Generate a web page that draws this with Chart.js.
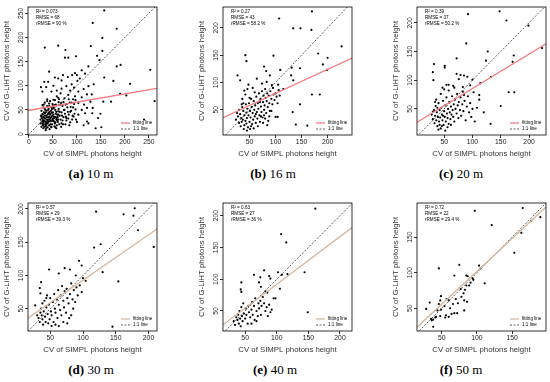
<!DOCTYPE html>
<html>
<head>
<meta charset="utf-8">
<script src="https://cdn.jsdelivr.net/npm/chart.js@4.4.1/dist/chart.umd.min.js"></script>
<style>
  body { margin: 0; background: #fff; width: 550px; height: 382px; position: relative; overflow: hidden; }
  canvas { position: absolute; }
  .cap { position: absolute; width: 180px; text-align: center; font-family: "Liberation Serif", serif; font-size: 13px; line-height: 1; color: #000; }
</style>
</head>
<body>
<script>
// panel labels and stats
const letters = ['a', 'b', 'c', 'd', 'e', 'f'];
const distances = ['10 m', '16 m', '20 m', '30 m', '40 m', '50 m'];
const r2 = ['0.073', '0.27', '0.39', '0.57', '0.63', '0.72'];
const rmse = ['68', '43', '37', '29', '27', '22'];
const rrmse = ['90 %', '58.2 %', '50.2 %', '39.3 %', '36 %', '29.4 %'];

// fitted line y = a + b*x
const fitIntercept = [49, 36, 25.5, 25, 17, 9.5];
const fitSlope = [0.17, 0.44, 0.6, 0.68, 0.75, 0.923];

// axis limits and tick labels
const xLimits = [[-2, 267], [-1, 247], [2, 230], [16, 213], [15, 219], [15, 198]];
const yLimits = [[-2, 263], [4, 238], [4.5, 227.5], [16.5, 209], [18.5, 220], [18, 198]];
const xTicks = [[0, 50, 100, 150, 200, 250], [50, 100, 150, 200], [50, 100, 150, 200], [50, 100, 150, 200], [50, 100, 150, 200], [50, 100, 150]];
const yTicks = [[0, 50, 100, 150, 200, 250], [50, 100, 150, 200], [50, 100, 150, 200], [50, 100, 150, 200], [50, 100, 150, 200], [50, 100, 150]];

// CV of SIMPL (x) vs CV of G-LiHT (y)
const ptsA = [[157,256],[133,230],[183,218],[153,199],[33,179],[61,183],[129,182],[76,174],[98,161],[75,158],[82,158],[142,162],[153,172],[147,153],[183,140],[191,143],[253,133],[124,140],[157,117],[176,110],[211,104],[190,83],[203,80],[155,67],[171,67],[262,68],[149,42],[144,33],[139,12],[151,14],[124,22],[240,30],[131,82],[121,54],[133,54],
[42,129],[25,97],[32,108],[40,108],[54,117],[61,115],[68,111],[71,122],[81,118],[90,122],[96,126],[100,122],[106,115],[110,132],[117,125],[101,110],[89,103],[78,99],[51,100],[36,97],[28,88],[47,88],[58,90],[68,94],[86,90],[94,96],[103,88],[114,93],[124,99],[135,103],[121,82],[110,76],[96,78],[82,81],[74,74],[61,75],[51,71],[38,68],[31,61],[42,58],[56,61],[67,64],[76,61],[89,65],[103,64],[115,61],[128,67],[110,50],[97,51],[86,46],[74,50],[61,47],[103,40],[93,36],[78,33],[117,43],[132,43],[121,26],[114,18],[100,25],[68,22],[58,18],
[28,42],[30,35],[32,28],[34,20],[35,45],[36,38],[38,30],[40,25],[40,50],[42,18],[44,40],[45,33],[47,55],[48,27],[50,45],[52,36],[54,22],[55,50],[57,30],[59,40],[24,30],[26,48],[28,22],[30,55],[32,15],[33,38],[36,12],[38,58],[41,44],[43,30],[46,15],[49,38],[51,28],[53,60],[56,42],[58,33],[60,25],[62,52],[64,38],[66,30],[68,45],[70,58],[72,35],[75,42],[78,28],[80,55],[83,40],[85,65],[88,48],[90,30],[92,55],[95,42],[25,38],[27,26],[29,18],[31,45],[34,32],[37,22],[39,40],[42,35],[44,26],[46,48],[48,20],[50,32],[52,54],[55,24],[60,35],[63,20],[65,60],[67,15],[70,28],[73,50],[76,20],[82,32],[86,24],[28,60],[33,65],[38,72],[44,68],[49,62],[54,70],[58,78],[62,66],[66,84],[24,22],[26,15],[30,12],[35,8],[40,35],[45,42],[35,26],[32,33],[41,52],[47,36],[36,18],[39,14],[43,10],[29,40],[31,25],[37,48],[42,63],[48,44],[53,16],[57,12],[61,30],[64,46],[69,38],[71,20],[77,36],[81,46],[84,18],[87,56],[91,38],[94,62],[98,30],[27,33],[33,52],[39,28],[45,20],[50,58],[56,35],[63,72],[72,66],[79,62],[83,72],[92,72],[97,70],
[26,36],[29,29],[31,20],[33,43],[35,16],[37,35],[39,22],[41,30],[43,46],[45,28],[47,14],[49,30],[51,40],[53,33],[55,14],[57,46],[59,28],[61,40],[34,50],[36,24],[40,42],[44,34],[48,52],[52,26]];

const ptsB = [[170,230],[107,217],[134,199],[148,199],[169,196],[227,166],[182,153],[96,149],[42,150],[44,139],[200,145],[191,133],[199,123],[147,126],[131,127],[78,129],[82,121],[89,113],[109,123],[130,113],[134,104],[105,96],[27,113],[32,104],[64,107],[74,98],[83,101],[93,95],[170,78],[185,78],[147,60],[133,46],[139,23],[161,21],[100,37],[104,37],[115,88],
[30,50],[32,42],[34,35],[35,28],[36,55],[38,48],[40,40],[40,22],[42,30],[43,60],[44,45],[45,35],[46,52],[47,18],[48,40],[49,62],[50,28],[51,48],[52,36],[53,70],[54,55],[55,24],[56,44],[57,32],[58,66],[59,50],[60,38],[61,58],[62,26],[63,74],[64,46],[65,34],[66,62],[67,52],[68,80],[69,40],[70,28],[71,70],[72,56],[73,46],[74,84],[75,36],[76,64],[77,76],[78,50],[79,58],[80,88],[81,72],[82,44],[83,66],[84,80],[85,55],[86,30],[87,76],[88,62],[89,48],[90,84],[92,70],[94,60],[95,90],[96,78],[98,68],[100,80],[102,74],[104,62],[106,86],[108,76],[36,70],[38,62],[42,78],[46,88],[50,72],[28,38],[26,44],[24,32],[33,20],[39,15],[45,12],[53,20],[58,16],[62,42],[66,20],[72,38],[76,26],[80,34],[84,22],[40,85],[48,96],[56,90],[60,82],[35,60],[30,26],[37,32],[44,25],[51,15],[70,64],[78,40],[92,48],[88,38]];

const ptsC = [[148,220],[160,204],[92,215],[199,195],[223,156],[89,164],[72,138],[32,128],[51,125],[51,122],[124,134],[173,143],[127,150],[171,132],[133,106],[114,95],[30,114],[58,92],[31,100],[164,79],[174,79],[150,55],[132,24],[120,44],
[72,111],[79,109],[85,108],[91,106],[100,101],[76,102],[54,92],[47,87],[68,87],[83,88],[96,91],[102,79],[112,74],[85,74],
[28,40],[30,32],[32,48],[33,25],[34,38],[35,55],[36,30],[37,44],[38,20],[39,36],[40,60],[41,28],[42,48],[43,35],[44,16],[45,52],[46,40],[47,30],[48,64],[49,22],[50,46],[51,36],[52,56],[53,28],[54,70],[55,42],[56,34],[57,50],[58,24],[59,62],[60,44],[61,32],[62,54],[63,40],[64,72],[65,48],[66,36],[67,58],[68,28],[69,66],[70,50],[72,42],[73,76],[74,56],[75,34],[76,62],[78,48],[79,70],[80,38],[82,58],[83,80],[84,46],[86,64],[88,30],[90,54],[92,72],[94,44],[96,60],[98,36],[100,50],[36,66],[40,14],[46,20],[52,12],[56,18],[62,22],[44,76],[50,84],[30,45],[34,62],[38,52],[42,22],[48,38],[58,82],[66,90],[104,28],[108,52],[112,66]];

const ptsD = [[179,201],[162,192],[177,190],[120,196],[184,168],[208,143],[127,147],[117,142],[94,122],[98,115],[130,105],[154,91],[48,109],[63,103],[72,111],[80,109],[100,96],[104,92],[36,90],[34,81],[35,73],[27,55],[145,23],[63,24],
[32,36],[34,30],[35,44],[36,50],[37,40],[38,34],[38,58],[39,26],[40,46],[41,62],[42,38],[43,30],[44,52],[45,70],[46,42],[47,28],[48,56],[49,34],[50,66],[51,46],[52,40],[54,60],[55,30],[56,72],[57,50],[58,44],[60,64],[61,36],[62,78],[63,56],[65,48],[66,70],[67,40],[68,84],[70,62],[71,52],[72,76],[74,44],[75,80],[76,66],[78,58],[79,36],[80,72],[82,88],[84,64],[85,50],[86,78],[88,60],[89,100],[90,82],[92,70],[70,30],[76,28],[58,26],[82,40],[95,85],[98,75],[52,24],[44,66],[30,40]];

const ptsE = [[161,211],[107,171],[115,158],[144,111],[149,48],[117,108],[108,107],[80,114],[64,107],[74,103],[88,105],[90,101],[102,111],[105,85],[98,70],[44,95],[43,84],[44,80],[72,95],[75,88],[82,81],[85,79],
[32,34],[34,28],[36,40],[38,36],[39,44],[40,30],[41,50],[42,38],[43,26],[44,56],[45,42],[46,34],[47,62],[48,46],[50,38],[51,54],[52,44],[54,30],[55,58],[56,48],[58,40],[60,52],[61,64],[62,44],[64,58],[65,36],[66,70],[68,50],[70,42],[71,62],[72,54],[74,66],[75,44],[76,58],[78,72],[80,62],[82,50],[84,56],[86,42],[88,60],[90,48],[92,52],[60,30],[68,34],[95,70]];

const ptsF = [[165,191],[97,187],[190,178],[177,173],[121,167],[163,156],[153,128],[46,106],[75,111],[68,96],[103,110],[105,106],[85,96],[87,95],[94,92],[111,85],[91,86],[85,82],[83,76],[77,77],[81,71],[33,58],[28,49],[49,67],[48,61],[57,63],[60,61],[70,63],[73,57],[82,61],[86,59],[82,47],[68,43],[72,43],[64,42],[55,37],[48,39],[41,37],[38,34],[35,35],[44,47],[46,56],[54,53],[49,48],[38,24],[56,40],[60,38],[66,56],[78,66],[89,82],[95,90],[62,50],[42,38],[36,33]];

const points = [ptsA, ptsB, ptsC, ptsD, ptsE, ptsF];

// layout of the 3x2 grid
const boxLefts = [28, 223, 417];
const boxTops = [7, 203];
const capCenters = [[91, 273, 461], [91, 275, 461]];
const capTops = [167, 363];
const boxW = 130, boxH = 128;
const fitColors = ['#f37b80', '#f37b80', '#f37b80', '#d6b89e', '#d6b89e', '#d6b89e'];

const decor = {
  id: 'decor',
  afterDraw(chart, args, o) {
    const { ctx, chartArea: a, scales: { y } } = chart;
    const i = o.idx;
    ctx.save();
    ctx.strokeStyle = '#000';
    ctx.lineWidth = 0.8;
    ctx.strokeRect(a.left, a.top, a.right - a.left, a.bottom - a.top);

    // rotated y tick labels, R style
    ctx.fillStyle = '#222';
    ctx.font = '6.8px "Liberation Sans", Arial, sans-serif';
    ctx.textAlign = 'center';
    ctx.textBaseline = 'middle';
    y.ticks.forEach(t => {
      ctx.save();
      ctx.translate(a.left - 7, y.getPixelForValue(t.value));
      ctx.rotate(-Math.PI / 2);
      ctx.fillText(String(t.value), 0, 0);
      ctx.restore();
    });

    // stats
    ctx.textAlign = 'left';
    ctx.fillStyle = '#000';
    ctx.font = '4.6px "Liberation Sans", Arial, sans-serif';
    ['R\u00b2 = ' + r2[i], 'RMSE = ' + rmse[i], 'rRMSE = ' + rrmse[i]]
      .forEach((s, k) => ctx.fillText(s, a.left + 8, a.top + 4.5 + 6 * k));

    // legend
    const lx = a.right - 36, ly = a.bottom - 12;
    ctx.strokeStyle = fitColors[i];
    ctx.lineWidth = 1.3;
    ctx.beginPath(); ctx.moveTo(lx, ly); ctx.lineTo(lx + 9, ly); ctx.stroke();
    ctx.strokeStyle = '#333';
    ctx.lineWidth = 0.8;
    ctx.setLineDash([2, 1.5]);
    ctx.beginPath(); ctx.moveTo(lx, ly + 6); ctx.lineTo(lx + 9, ly + 6); ctx.stroke();
    ctx.setLineDash([]);
    ctx.fillText('fitting line', lx + 12, ly);
    ctx.fillText('1:1 line', lx + 12, ly + 6);
    ctx.restore();
  }
};

letters.forEach((L, i) => {
  const col = i % 3, row = Math.floor(i / 3);
  const cv = document.createElement('canvas');
  cv.width = boxW + 31;
  cv.height = boxH + 37;
  cv.style.left = (boxLefts[col] - 28) + 'px';
  cv.style.top = (boxTops[row] - 7) + 'px';
  document.body.appendChild(cv);

  const cap = document.createElement('div');
  cap.className = 'cap';
  cap.style.left = (capCenters[row][col] - 90) + 'px';
  cap.style.top = capTops[row] + 'px';
  cap.innerHTML = '<b>(' + L + ')</b> ' + distances[i];
  document.body.appendChild(cap);

  const [x0, x1] = xLimits[i];
  const lo = Math.min(x0, yLimits[i][0]), hi = Math.max(x1, yLimits[i][1]);
  const fitLine = [x0, x1].map(x => ({ x, y: fitIntercept[i] + fitSlope[i] * x }));
  const oneToOne = [{ x: lo, y: lo }, { x: hi, y: hi }];

  const tickFont = { family: '"Liberation Sans", Arial, sans-serif', size: 6.8 };
  const titleFont = { family: '"Liberation Sans", Arial, sans-serif', size: 7.8 };
  const grid = { drawOnChartArea: false, drawTicks: true, tickLength: 3, color: '#000', lineWidth: 0.8 };

  new Chart(cv, {
    type: 'scatter',
    data: {
      datasets: [
        { data: fitLine, showLine: true, borderColor: fitColors[i], borderWidth: 1.3, pointRadius: 0 },
        { data: oneToOne, showLine: true, borderColor: '#333', borderWidth: 0.8, borderDash: [2, 1.5], pointRadius: 0 },
        { data: points[i].map(([x, y]) => ({ x, y })), pointRadius: 1.1, backgroundColor: '#000', borderWidth: 0 }
      ]
    },
    options: {
      responsive: false,
      animation: false,
      devicePixelRatio: 1,
      layout: { padding: { top: 7, right: 3, left: 0, bottom: 0 } },
      plugins: { legend: { display: false }, tooltip: { enabled: false }, decor: { idx: i } },
      scales: {
        x: {
          min: x0, max: x1,
          afterBuildTicks: s => { s.ticks = xTicks[i].map(v => ({ value: v })); },
          afterFit: s => { s.height = 30; },
          ticks: { font: tickFont, color: '#222', padding: 0, maxRotation: 0, autoSkip: false },
          grid, border: { display: false },
          title: { display: true, text: 'CV of SIMPL photons height', font: titleFont, color: '#333', padding: { top: 0, bottom: 6.3 } }
        },
        y: {
          min: yLimits[i][0], max: yLimits[i][1],
          afterBuildTicks: s => { s.ticks = yTicks[i].map(v => ({ value: v })); },
          afterFit: s => { s.width = 28; },
          ticks: { display: false },
          grid, border: { display: false },
          title: { display: true, text: 'CV of G-LiHT photons height', font: titleFont, color: '#333', padding: { top: 2.3, bottom: 0 } }
        }
      }
    },
    plugins: [decor]
  });
});
</script>
</body>
</html>
